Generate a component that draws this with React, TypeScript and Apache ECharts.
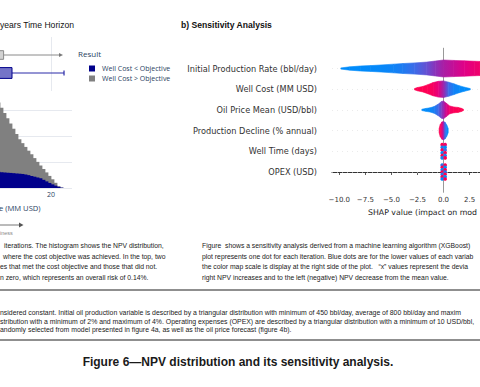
import React, { useEffect, useRef } from 'react';
import * as echarts from 'echarts';

// ---------- Left panel: NPV histogram (MM USD) ----------
const binCenters = [10.25, 10.75, 11.25, 11.75, 12.25, 12.75, 13.25, 13.75, 14.25, 14.75, 15.25, 15.75, 16.25, 16.75, 17.25, 17.75, 18.25, 18.75, 19.25, 19.75, 20.25, 20.75, 21.25, 21.75, 22.25];
const belowObjective = [130, 128, 125, 122, 120, 118, 116, 114, 112, 110, 108, 104, 99, 93, 87, 81, 75, 63, 51, 39, 28, 18, 9, 3, 0];
const aboveObjective = [609, 571, 533, 496, 457, 419, 380, 342, 304, 265, 237, 212, 188, 166, 143, 120, 98, 83, 69, 54, 39, 22, 5, 0, 0];
const histTicks = [20];
const resultNames = ['Well Cost < Objective', 'Well Cost > Objective'];

// marginal box rows (0 = below objective, 1 = above objective)
const boxQ1 = [7, 6];
const boxQ3 = [13.5, 12.1];
const boxWhiskerEnd = [22.17, 21.5];

// ---------- Right panel: SHAP beeswarm ----------
const shapFeatures = ['OPEX (USD)', 'Well Time (days)', 'Production Decline (% annual)', 'Oil Price Mean (USD/bbl)', 'Well Cost (MM USD)', 'Initial Production Rate (bbl/day)'];
const shapTicks = [-10, -7.5, -5, -2.5, 0, 2.5];
// [shap value, half spread (rows), feature value 0..1]
const profileInitialProduction = [
  [-9.85, 0.03, 0.0], [-9.0, 0.08, 0.0], [-8.0, 0.12, 0.0], [-7.0, 0.14, 0.01], [-6.0, 0.17, 0.02],
  [-4.8, 0.21, 0.05], [-3.9, 0.24, 0.1], [-2.8, 0.27, 0.2], [-1.6, 0.31, 0.33], [-0.8, 0.36, 0.44],
  [0.0, 0.41, 0.55], [1.0, 0.39, 0.65], [2.0, 0.37, 0.75], [3.0, 0.35, 0.84], [3.5, 0.34, 0.88],
  [4.5, 0.24, 0.93], [5.3, 0.12, 0.97], [5.8, 0.04, 1.0],
];
const profileWellCost = [
  [-2.79, 0.03, 1.0], [-2.5, 0.08, 1.0], [-2.0, 0.13, 1.0], [-1.5, 0.22, 0.98], [-1.0, 0.32, 0.93],
  [-0.5, 0.38, 0.8], [0.0, 0.4, 0.5], [0.5, 0.34, 0.2], [1.0, 0.26, 0.06], [1.5, 0.17, 0.02],
  [2.0, 0.1, 0.0], [2.57, 0.03, 0.0],
];
const profileOilPrice = [
  [-2.08, 0.03, 0.0], [-1.7, 0.07, 0.0], [-1.3, 0.1, 0.02], [-0.9, 0.16, 0.08], [-0.5, 0.28, 0.22],
  [-0.2, 0.4, 0.4], [0.0, 0.43, 0.5], [0.25, 0.33, 0.7], [0.6, 0.19, 0.9], [1.0, 0.14, 0.97],
  [1.4, 0.12, 1.0], [1.7, 0.08, 1.0], [1.92, 0.03, 1.0],
];
const profileProdDecline = [
  [-0.42, 0.1, 1.0], [-0.3, 0.3, 0.95], [-0.15, 0.42, 0.8], [0.0, 0.44, 0.5], [0.15, 0.4, 0.2],
  [0.3, 0.28, 0.05], [0.45, 0.1, 0.0],
];
// [shap value, offset from row, feature value]
const dotsWellTime = [
  [-0.13, 0.32, 1], [0.16, 0.32, 0.9], [-0.13, 0.19, 0.1], [0.16, 0.19, 0],
  [-0.13, 0.06, 1], [0.16, 0.06, 0.2], [-0.13, -0.07, 0], [0.16, -0.07, 1],
  [-0.13, -0.2, 1], [0.16, -0.2, 0.1], [-0.13, -0.32, 0.05], [0.16, -0.32, 1],
];
const dotsOpex = [
  [-0.13, 0.34, 0.1], [0.16, 0.34, 1], [-0.13, 0.23, 1], [0.16, 0.23, 0],
  [-0.13, 0.11, 0], [0.16, 0.11, 1], [-0.13, 0.0, 1], [0.16, 0.0, 0.1],
  [-0.13, -0.11, 0.1], [0.16, -0.11, 1], [-0.13, -0.23, 1], [0.16, -0.23, 0],
  [-0.13, -0.34, 0], [0.16, -0.34, 1],
];

const shapColors = ['#008bfb', '#4b63e3', '#9c24ad', '#e00086', '#ff0052'];
const cmap = (t: number) => echarts.color.lerp(Math.max(0, Math.min(1, t)), shapColors) as string;

const violinRows: [number, number[][]][] = [
  [5, profileInitialProduction],
  [4, profileWellCost],
  [3, profileOilPrice],
  [2, profileProdDecline],
];
const violinSegments: number[][] = [];
violinRows.forEach(([row, pts]) => {
  for (let j = 0; j < pts.length - 1; j++) {
    violinSegments.push([pts[j][0], row, pts[j][2], pts[j][1], pts[j + 1][0], pts[j + 1][1], pts[j + 1][2]]);
  }
});
const dotData: number[][] = [
  ...dotsWellTime.map((d) => [d[0], 1 + d[1], d[2]]),
  ...dotsOpex.map((d) => [d[0], 0 + d[1], d[2]]),
];

const FS = 'Liberation Sans, Arial, sans-serif';
const PL = 'Open Sans, sans-serif';
const DJ = 'DejaVu Sans, sans-serif';

function txt(x: number, y: number, text: string, size: number, fill: string, family = FS, weight: any = 'normal', align = 'left') {
  return {
    type: 'text',
    x,
    y,
    silent: true,
    style: { text, fill, fontSize: size, fontFamily: family, fontWeight: weight, align, verticalAlign: 'middle', textAlign: align, textVerticalAlign: 'middle' },
  };
}
function hline(y: number, x1: number, x2: number, stroke: string, w: number) {
  return { type: 'line', silent: true, shape: { x1, y1: y, x2, y2: y }, style: { stroke, lineWidth: w } };
}

const captionLeft = [
  [4, 'iterations. The histogram shows the NPV distribution,'],
  [3, 'where the cost objective was achieved. In the top, two'],
  [0, 'es that met the cost objective and those that did not.'],
  [0, 'n zero, which represents an overall risk of 0.14%.'],
];
const captionRight = [
  'Figure  shows a sensitivity analysis derived from a machine learning algorithm (XGBoost)',
  'plot represents one dot for each iteration. Blue dots are for the lower values of each variab',
  'the color map scale is display at the right side of the plot.   \u201cx\u201d values represent the devia',
  'right NPV increases and to the left (negative) NPV decrease from the mean value.',
];
const paragraph = [
  'nsidered constant. Initial oil production variable is described by a triangular distribution with minimum of 450 bbl/day, average of 800 bbl/day and maxim',
  'stribution with a minimum of 2% and maximum of 4%. Operating expenses (OPEX) are described by a triangular distribution with a minimum of 10 USD/bbl,',
  'andomly selected from model presented in figure 4a, as well as the oil price forecast (figure 4b).',
];

function buildOption(): any {
  const capY = [245.5, 256, 266.5, 277];
  const parY = [312.7, 321.2, 329.7];
  const graphics: any[] = [
    txt(0, 25, 'years Time Horizon', 8.6, '#111'),
    txt(181, 25, 'b) Sensitivity Analysis', 8.6, '#111', FS, 600),
    txt(78, 53, 'Result', 8, '#2a3f5f', PL),
    txt(-1, 208, 'e (MM USD)', 7.6, '#2a3f5f', PL),
    { type: 'line', silent: true, shape: { x1: 0, y1: 225, x2: 20, y2: 225 }, style: { stroke: '#777', lineWidth: 1 } },
    { type: 'polygon', silent: true, shape: { points: [[19, 222.6], [23.5, 225], [19, 227.4]] }, style: { fill: '#555' } },
    txt(0, 233, 'iness', 5.5, '#888'),
    txt(368, 212, 'SHAP value (impact on mod', 7.8, '#222', DJ),
    ...captionLeft.map((c, i) => txt(c[0] as number, capY[i], c[1] as string, 6.8, '#1a1a1a')),
    ...captionRight.map((c, i) => txt(202, capY[i], c, 6.8, '#1a1a1a')),
    hline(290, 0, 480, '#6a6a6a', 1.3),
    ...paragraph.map((c, i) => txt(0, parY[i], c, 6.9, '#1a1a1a')),
    hline(340, 0, 480, '#6a6a6a', 1.3),
    txt(238, 362, 'Figure 6\u2014NPV distribution and its sensitivity analysis.', 12, '#1a1a1a', FS, 'bold', 'center'),
  ];

  return {
    animation: false,
    backgroundColor: '#ffffff',
    grid: [
      { left: -69, right: 408, top: 110, bottom: 199, containLabel: false, outerBoundsMode: 'none' },
      { left: -69, right: 408, top: 37, bottom: 296, containLabel: false, outerBoundsMode: 'none' },
      { left: 332, right: -75, top: 47.8, bottom: 194.3, containLabel: false, outerBoundsMode: 'none' },
    ],
    xAxis: [
      {
        gridIndex: 0, type: 'value', min: 0, max: 23.5, interval: 10,
        axisLine: { show: false }, axisTick: { show: false }, splitLine: { show: false },
        axisLabel: { customValues: histTicks, formatter: (v: number) => (histTicks.includes(v) ? String(v) : ''), fontSize: 7, color: '#2a3f5f', fontFamily: PL, margin: 3 },
      },
      {
        gridIndex: 1, type: 'value', min: 0, max: 23.5, interval: 10,
        axisLine: { show: false }, axisTick: { show: false }, axisLabel: { show: false },
        splitLine: { show: true, showMaxLine: false, showMinLine: false, lineStyle: { color: '#e6e9ef', width: 1 } },
      },
      {
        gridIndex: 2, type: 'value', min: -10.7, max: 10.7,
        axisLine: { show: true, lineStyle: { color: '#333', width: 1 } },
        axisTick: { show: true, customValues: shapTicks, length: 3, lineStyle: { color: '#333', width: 0.8 } },
        axisLabel: {
          customValues: shapTicks, fontSize: 7, color: '#333', fontFamily: DJ, margin: 4,
          formatter: (v: number) => (v < 0 ? '\u2212' : '') + Math.abs(v).toFixed(1),
        },
        splitLine: { show: false },
      },
    ],
    yAxis: [
      {
        gridIndex: 0, type: 'value', min: 0, max: 600, interval: 200,
        axisLine: { show: false }, axisTick: { show: false }, axisLabel: { show: false },
        splitLine: { show: true, lineStyle: { color: '#e6e9ef', width: 1 } },
      },
      { gridIndex: 1, type: 'value', min: -1, max: 2, show: false },
      {
        gridIndex: 2, type: 'value', min: -1, max: 6, interval: 1,
        axisLine: { show: false }, axisTick: { show: false }, splitLine: { show: false },
        axisLabel: { formatter: (v: number) => shapFeatures[v] ?? '', fontSize: 8.2, color: '#333', fontFamily: DJ, margin: 15 },
      },
    ],
    legend: {
      data: resultNames, orient: 'vertical', left: 84, top: 60, itemWidth: 6, itemHeight: 6, itemGap: 3,
      icon: 'rect', selectedMode: false,
      textStyle: { fontSize: 7, color: '#2a3f5f', fontFamily: PL, padding: [0, 0, 0, 2] },
    },
    graphic: { elements: graphics },
    series: [
      {
        name: resultNames[1], type: 'bar', xAxisIndex: 0, yAxisIndex: 0, barWidth: 3.8, barGap: '-100%', clip: false,
        itemStyle: { color: '#808080' },
        data: binCenters.map((x, i) => [x, belowObjective[i] + aboveObjective[i]]),
      },
      {
        name: resultNames[0], type: 'bar', xAxisIndex: 0, yAxisIndex: 0, barWidth: 3.8, barGap: '-100%', clip: false,
        itemStyle: { color: '#00008b' },
        data: binCenters.map((x, i) => [x, belowObjective[i]]),
      },
      {
        type: 'custom', xAxisIndex: 1, yAxisIndex: 1, silent: true,
        data: boxQ1.map((q, i) => [q, boxQ3[i], boxWhiskerEnd[i], i]),
        renderItem: (params: any, api: any) => {
          const i = params.dataIndex;
          const q1 = api.value(0), q3 = api.value(1), wEnd = api.value(2), row = api.value(3);
          const half = i === 0 ? 0.3 : 0.24;
          const tl = api.coord([q1, row + half]);
          const br = api.coord([q3, row - half]);
          const mid = api.coord([q3, row]);
          const end = api.coord([wEnd, row]);
          const stroke = i === 0 ? '#00008b' : '#8a8a8a';
          const fill = i === 0 ? '#7474c8' : '#d2d2d2';
          const children: any[] = [
            { type: 'line', shape: { x1: mid[0], y1: mid[1], x2: end[0], y2: end[1] }, style: { stroke: i === 0 ? '#2a2aa8' : '#8a8a8a', lineWidth: 1 } },
            { type: 'rect', shape: { x: tl[0], y: tl[1], width: br[0] - tl[0], height: br[1] - tl[1] }, style: { fill, stroke, lineWidth: 1 } },
          ];
          if (i === 0) {
            children.push({ type: 'line', shape: { x1: end[0], y1: end[1] - 2.5, x2: end[0], y2: end[1] + 2.5 }, style: { stroke: '#2a2aa8', lineWidth: 1.2 } });
          } else {
            children.push({ type: 'polygon', shape: { points: [[end[0] - 1, end[1] - 2], [end[0] + 3, end[1]], [end[0] - 1, end[1] + 2]] }, style: { fill: '#7a7a7a' } });
          }
          return { type: 'group', children };
        },
      },
      {
        type: 'custom', xAxisIndex: 2, yAxisIndex: 2, silent: true, z: 3,
        data: violinSegments,
        renderItem: (params: any, api: any) => {
          const u0 = api.value(0), row = api.value(1), c0 = api.value(2), h0 = api.value(3), u1 = api.value(4), h1 = api.value(5), c1 = api.value(6);
          const a = api.coord([u0, row + h0]);
          const b = api.coord([u1, row + h1]);
          const c = api.coord([u1, row - h1]);
          const d = api.coord([u0, row - h0]);
          const grad = new echarts.graphic.LinearGradient(0, 0, 1, 0, [
            { offset: 0, color: cmap(c0) },
            { offset: 1, color: cmap(c1) },
          ]);
          return { type: 'polygon', shape: { points: [a, b, c, d] }, style: { fill: grad, stroke: grad, lineWidth: 0.6 } };
        },
      },
      {
        type: 'scatter', xAxisIndex: 2, yAxisIndex: 2, silent: true, z: 3,
        symbolSize: 3.6,
        itemStyle: { color: (p: any) => cmap(p.value[2]), opacity: 1 },
        data: dotData,
        markLine: {
          silent: true, z: 1, symbol: ['none', 'none'], label: { show: false },
          data: [
            ...[0, 1, 2, 3, 4, 5].map((r) => ({ yAxis: r, lineStyle: { color: '#dddddd', width: 0.6, type: [1, 4] } })),
            { xAxis: 0, lineStyle: { color: '#999999', width: 1, type: 'solid' } },
          ],
        },
      },
    ],
  };
}

export default function App() {
  const ref = useRef<HTMLDivElement>(null);
  useEffect(() => {
    document.body.style.margin = '0';
    const chart = echarts.init(ref.current as HTMLDivElement, undefined, { renderer: 'svg', width: 480, height: 387 });
    chart.setOption(buildOption());
    return () => chart.dispose();
  }, []);
  return <div ref={ref} style={{ width: 480, height: 387, position: 'fixed', left: 0, top: 0, background: '#fff' }} />;
}
